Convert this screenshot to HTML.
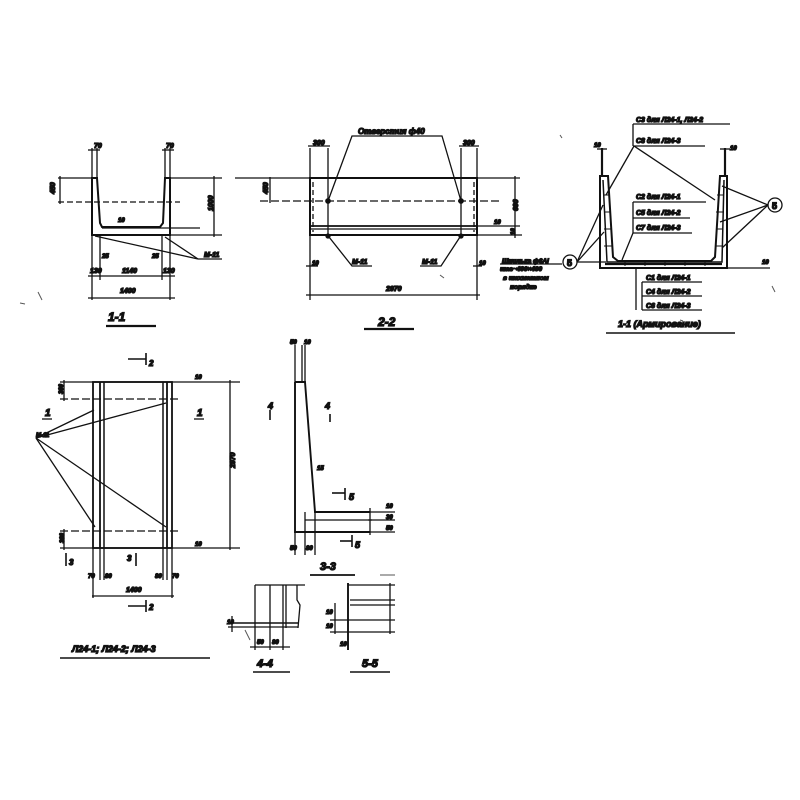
<!DOCTYPE html>
<html><head><meta charset="utf-8"><style>
html,body{margin:0;padding:0;background:#fff;}
svg{display:block}
text{font-family:"Liberation Sans",sans-serif;font-style:italic;font-weight:bold;fill:#111;}
</style></head><body>
<svg width="800" height="800" viewBox="0 0 800 800" xmlns="http://www.w3.org/2000/svg" stroke="#111" fill="none" stroke-width="1.3">
<!-- ===== 1-1 ===== -->
<g>
<path d="M92,178 L97,178 L100,223 L102,227 L160,227 L163,223 L165,178 L170,178 L170,235 L92,235 Z" stroke-width="2"/>
<line x1="58" y1="178" x2="92" y2="178"/><line x1="170" y1="178" x2="222" y2="178"/>
<line x1="58" y1="202" x2="180" y2="202" stroke-dasharray="6,3"/>
<line x1="60" y1="176" x2="60" y2="204"/><text x="50" y="195" font-size="7" transform="rotate(-90 52 192)">450</text>
<line x1="214" y1="176" x2="214" y2="237"/><text x="206" y="212" font-size="7" transform="rotate(-90 209 208)">1000</text>
<line x1="170" y1="235" x2="222" y2="235"/><line x1="102" y1="228" x2="200" y2="228"/>
<line x1="92" y1="148" x2="92" y2="300"/><line x1="97" y1="148" x2="97" y2="178"/>
<line x1="165" y1="148" x2="165" y2="178"/><line x1="170" y1="148" x2="170" y2="300"/>
<line x1="88" y1="150" x2="100" y2="150"/><line x1="162" y1="150" x2="174" y2="150"/>
<text x="94" y="148" font-size="7">70</text><text x="166" y="148" font-size="7">70</text>
<line x1="100" y1="235" x2="100" y2="280"/><line x1="162" y1="235" x2="162" y2="280"/>
<line x1="88" y1="276" x2="175" y2="276"/><line x1="88" y1="298" x2="175" y2="298"/>
<text x="90" y="273" font-size="7">130</text><text x="122" y="273" font-size="7">1140</text><text x="163" y="273" font-size="7">130</text>
<text x="120" y="293" font-size="7">1400</text>
<text x="118" y="222" font-size="6">10</text><text x="102" y="258" font-size="6">25</text><text x="152" y="258" font-size="6">25</text>
<line x1="95" y1="236" x2="198" y2="259"/><line x1="165" y1="237" x2="198" y2="259"/><line x1="198" y1="259" x2="222" y2="259"/>
<text x="204" y="257" font-size="7">М-11</text>
<text x="108" y="321" font-size="12">1-1</text><line x1="106" y1="326" x2="156" y2="326" stroke-width="2.2"/>
</g>
<!-- ===== 2-2 ===== -->
<g>
<rect x="310" y="178" width="167" height="57" stroke-width="2"/>
<line x1="310" y1="226" x2="477" y2="226" stroke-width="1.8"/><line x1="310" y1="229" x2="477" y2="229"/>
<line x1="313" y1="182" x2="313" y2="232" stroke-dasharray="5,3"/><line x1="474" y1="182" x2="474" y2="232" stroke-dasharray="5,3"/>
<line x1="235" y1="178" x2="520" y2="178"/><line x1="260" y1="201" x2="500" y2="201" stroke-dasharray="8,3"/>
<line x1="477" y1="235" x2="522" y2="235"/><line x1="477" y1="226" x2="520" y2="226"/>
<line x1="515" y1="176" x2="515" y2="238"/>
<text x="508" y="215" font-size="7" transform="rotate(-90 511 208)">690</text>
<text x="508" y="236" font-size="6" transform="rotate(-90 511 232)">10</text>
<text x="494" y="224" font-size="6">10</text>
<line x1="270" y1="177" x2="270" y2="203"/><text x="262" y="194" font-size="7" transform="rotate(-90 265 191)">450</text>
<circle cx="328" cy="201" r="2.2" fill="#111"/><circle cx="461" cy="201" r="2.2" fill="#111"/>
<circle cx="328" cy="236" r="2" fill="#111"/><circle cx="461" cy="236" r="2" fill="#111"/>
<line x1="310" y1="148" x2="310" y2="300"/><line x1="328" y1="148" x2="328" y2="238"/>
<line x1="461" y1="148" x2="461" y2="238"/><line x1="477" y1="148" x2="477" y2="300"/>
<line x1="308" y1="146" x2="330" y2="146"/><line x1="459" y1="146" x2="479" y2="146"/>
<text x="313" y="145" font-size="7">300</text><text x="463" y="145" font-size="7">300</text>
<polyline points="328,201 352,136 442,136 461,201"/>
<text x="358" y="134" font-size="8">Отверстия ф40</text>
<polyline points="329,237 352,266 372,266"/><text x="352" y="264" font-size="7">М-11</text>
<polyline points="460,237 441,266 420,266"/><text x="422" y="264" font-size="7">М-11</text>
<line x1="306" y1="266" x2="318" y2="266"/><text x="312" y="265" font-size="6">10</text>
<line x1="473" y1="266" x2="482" y2="266"/><text x="479" y="265" font-size="6">10</text>
<line x1="306" y1="295" x2="480" y2="295"/><text x="386" y="291" font-size="7">2970</text>
<text x="378" y="326" font-size="12">2-2</text><line x1="364" y1="329" x2="414" y2="329" stroke-width="2.2"/>
</g>
<!-- ===== 1-1 armoring ===== -->
<g>
<path d="M600,176 L608,176 L613,257 L618,261 L711,261 L715,257 L720,176 L727,176 L727,268 L600,268 Z" stroke-width="2"/>
<path d="M603,180 L607,262 L722,262 L724,180" stroke-width="1.5"/>
<path d="M605,264 L722,264" stroke-width="2.2"/>
<line x1="602" y1="148" x2="602" y2="176" stroke-width="2.2"/><line x1="725" y1="148" x2="725" y2="176" stroke-width="2.2"/>
<line x1="597" y1="149" x2="607" y2="149"/><line x1="720" y1="149" x2="730" y2="149"/>
<text x="594" y="147" font-size="6">10</text><text x="730" y="150" font-size="6">10</text>
<line x1="727" y1="268" x2="770" y2="268"/><text x="762" y="264" font-size="6">10</text>
<g stroke-width="1">
<line x1="603" y1="195" x2="610" y2="195"/><line x1="604" y1="212" x2="611" y2="212"/><line x1="604" y1="229" x2="611" y2="229"/><line x1="604" y1="246" x2="612" y2="246"/>
<line x1="717" y1="195" x2="724" y2="195"/><line x1="716" y1="212" x2="724" y2="212"/><line x1="716" y1="229" x2="723" y2="229"/><line x1="715" y1="246" x2="723" y2="246"/>
<line x1="625" y1="262" x2="625" y2="266"/><line x1="645" y1="262" x2="645" y2="266"/><line x1="665" y1="262" x2="665" y2="266"/><line x1="685" y1="262" x2="685" y2="266"/><line x1="705" y1="262" x2="705" y2="266"/>
</g>
<line x1="633" y1="124" x2="730" y2="124"/><line x1="633" y1="124" x2="633" y2="146"/><line x1="633" y1="146" x2="705" y2="146"/>
<text x="636" y="122" font-size="7">С3 для Л24-1, Л24-2</text><text x="636" y="143" font-size="7">С8 для Л24-3</text>
<line x1="634" y1="146" x2="606" y2="195"/><line x1="634" y1="146" x2="715" y2="200"/>
<line x1="633" y1="202" x2="706" y2="202"/><line x1="633" y1="202" x2="633" y2="233"/><line x1="633" y1="218" x2="690" y2="218"/><line x1="633" y1="233" x2="692" y2="233"/>
<text x="636" y="199" font-size="7">С2 для Л24-1</text><text x="636" y="215" font-size="7">С5 для Л24-2</text><text x="636" y="230" font-size="7">С7 для Л24-3</text>
<line x1="633" y1="233" x2="622" y2="260"/>
<line x1="636" y1="268" x2="636" y2="310"/><line x1="642" y1="282" x2="702" y2="282"/><line x1="642" y1="296" x2="702" y2="296"/><line x1="642" y1="310" x2="702" y2="310"/><line x1="642" y1="282" x2="642" y2="310"/>
<text x="646" y="280" font-size="7">С1 для Л24-1</text><text x="646" y="294" font-size="7">С4 для Л24-2</text><text x="646" y="308" font-size="7">С6 для Л24-3</text>
<text x="618" y="327" font-size="9">1-1 (Армирование)</text><line x1="606" y1="333" x2="735" y2="333" stroke-width="1.5"/>
<circle cx="570" cy="262" r="7"/><text x="567" y="266" font-size="9" style="font-style:normal">5</text>
<circle cx="775" cy="205" r="7"/><text x="772" y="209" font-size="9" style="font-style:normal">5</text>
<line x1="577" y1="262" x2="603" y2="205"/><line x1="577" y1="262" x2="604" y2="232"/><line x1="577" y1="262" x2="606" y2="262"/>
<line x1="768" y1="205" x2="722" y2="186"/><line x1="768" y1="205" x2="720" y2="222"/><line x1="768" y1="205" x2="722" y2="248"/>
<text x="502" y="263" font-size="6.5">Шпилька ф6АI</text><line x1="500" y1="264" x2="562" y2="264"/>
<text x="500" y="271" font-size="6.5">шаг~400×400</text><text x="503" y="280" font-size="6.5">в шахматном</text><text x="510" y="289" font-size="6.5">порядке</text>
</g>
<!-- ===== plan ===== -->
<g>
<rect x="93" y="382" width="79" height="166" stroke-width="1.8"/>
<line x1="100" y1="382" x2="100" y2="548" stroke-width="1.8"/><line x1="104" y1="382" x2="104" y2="548" stroke-width="1.5"/>
<line x1="163" y1="382" x2="163" y2="548" stroke-width="1.5"/><line x1="167" y1="382" x2="167" y2="548" stroke-width="1.8"/>
<line x1="60" y1="382" x2="240" y2="382"/><line x1="60" y1="399" x2="180" y2="399" stroke-dasharray="8,3"/>
<line x1="60" y1="531" x2="180" y2="531" stroke-dasharray="8,3"/><line x1="60" y1="548" x2="240" y2="548"/>
<line x1="64" y1="380" x2="64" y2="401"/><line x1="64" y1="529" x2="64" y2="550"/>
<text x="56" y="395" font-size="6" transform="rotate(-90 59 391)">300</text><text x="56" y="545" font-size="6" transform="rotate(-90 59 540)">300</text>
<line x1="230" y1="380" x2="230" y2="550"/><text x="222" y="475" font-size="7" transform="rotate(-90 225 465)">2970</text>
<text x="195" y="379" font-size="6">10</text><text x="195" y="546" font-size="6">10</text>
<line x1="36" y1="438" x2="94" y2="410"/><line x1="36" y1="438" x2="166" y2="403"/><line x1="36" y1="438" x2="95" y2="527"/><line x1="36" y1="438" x2="166" y2="527"/>
<text x="36" y="437" font-size="6">М-11</text>
<text x="45" y="416" font-size="10">1</text><line x1="42" y1="419" x2="52" y2="419"/>
<text x="197" y="416" font-size="10">1</text><line x1="194" y1="419" x2="204" y2="419"/>
<line x1="128" y1="359" x2="146" y2="359" stroke-width="1.6"/><line x1="146" y1="353" x2="146" y2="365" stroke-width="1.6"/><text x="149" y="366" font-size="8">2</text>
<line x1="128" y1="606" x2="146" y2="606" stroke-width="1.6"/><line x1="146" y1="600" x2="146" y2="612" stroke-width="1.6"/><text x="149" y="610" font-size="8">2</text>
<line x1="66" y1="553" x2="66" y2="566" stroke-width="1.6"/><text x="69" y="565" font-size="8">3</text>
<line x1="136" y1="553" x2="136" y2="566" stroke-width="1.6"/><text x="127" y="561" font-size="8">3</text>
<line x1="93" y1="548" x2="93" y2="598"/><line x1="172" y1="548" x2="172" y2="598"/>
<line x1="100" y1="548" x2="100" y2="580"/><line x1="104" y1="548" x2="104" y2="580"/><line x1="163" y1="548" x2="163" y2="580"/><line x1="167" y1="548" x2="167" y2="580"/>
<text x="88" y="578" font-size="6">70</text><text x="105" y="578" font-size="6">80</text><text x="155" y="578" font-size="6">80</text><text x="172" y="578" font-size="6">70</text>
<line x1="92" y1="596" x2="174" y2="596"/><text x="126" y="592" font-size="7">1400</text>
<text x="72" y="652" font-size="9">Л24-1; Л24-2; Л24-3</text><line x1="60" y1="658" x2="210" y2="658" stroke-width="1.6"/>
</g>
<!-- ===== 3-3 ===== -->
<g>
<path d="M295,382 L305,382 L315,512 L370,512 M295,382 L295,532 L370,532" stroke-width="1.9"/>
<line x1="305" y1="512" x2="305" y2="532"/><line x1="305" y1="520" x2="372" y2="520"/>
<line x1="295" y1="345" x2="295" y2="382"/><line x1="302" y1="345" x2="302" y2="382"/><line x1="305" y1="345" x2="305" y2="382"/>
<text x="290" y="344" font-size="6">50</text><text x="304" y="344" font-size="6">10</text>
<line x1="295" y1="532" x2="295" y2="555"/><line x1="305" y1="532" x2="305" y2="555"/><line x1="315" y1="512" x2="315" y2="555"/>
<text x="290" y="550" font-size="6">50</text><text x="306" y="550" font-size="6">80</text>
<line x1="370" y1="508" x2="370" y2="535"/><line x1="368" y1="512" x2="395" y2="512"/><line x1="368" y1="520" x2="395" y2="520"/><line x1="368" y1="532" x2="395" y2="532"/>
<text x="386" y="508" font-size="6">10</text><text x="386" y="519" font-size="6">30</text><text x="386" y="530" font-size="6">50</text>
<text x="317" y="470" font-size="6">15</text>
<line x1="270" y1="410" x2="270" y2="420" stroke-width="1.6"/><text x="268" y="409" font-size="9">4</text>
<line x1="330" y1="414" x2="330" y2="422" stroke-width="1.6"/><text x="325" y="409" font-size="9">4</text>
<line x1="332" y1="493" x2="345" y2="493" stroke-width="1.6"/><line x1="345" y1="488" x2="345" y2="500" stroke-width="1.6"/><text x="349" y="500" font-size="9">5</text>
<line x1="340" y1="541" x2="352" y2="541" stroke-width="1.6"/><line x1="352" y1="535" x2="352" y2="547" stroke-width="1.6"/><text x="355" y="548" font-size="9">5</text>
<text x="320" y="570" font-size="11">3-3</text><line x1="310" y1="575" x2="355" y2="575" stroke-width="1.8"/>
</g>
<!-- ===== 4-4 ===== -->
<g>
<line x1="255" y1="585" x2="305" y2="585"/>
<line x1="255" y1="585" x2="255" y2="628"/><line x1="270" y1="585" x2="270" y2="628"/><line x1="283" y1="585" x2="283" y2="628"/><line x1="286" y1="585" x2="286" y2="628"/>
<path d="M297,585 L297,600 L300,605 L298,628" />
<line x1="228" y1="623" x2="298" y2="623" stroke-width="1.6"/><line x1="228" y1="627" x2="298" y2="627"/>
<line x1="232" y1="616" x2="232" y2="632"/><text x="227" y="624" font-size="6">10</text>
<line x1="255" y1="628" x2="255" y2="650"/><line x1="270" y1="628" x2="270" y2="650"/><line x1="283" y1="628" x2="283" y2="650"/>
<line x1="250" y1="647" x2="290" y2="647"/><text x="257" y="644" font-size="6">50</text><text x="272" y="644" font-size="6">80</text>
<text x="257" y="667" font-size="11">4-4</text><line x1="253" y1="672" x2="290" y2="672" stroke-width="1.6"/>
</g>
<!-- ===== 5-5 ===== -->
<g>
<line x1="348" y1="585" x2="395" y2="585"/><line x1="348" y1="583" x2="348" y2="650" stroke-width="1.9"/>
<line x1="350" y1="600" x2="395" y2="600"/><line x1="350" y1="605" x2="395" y2="605"/><line x1="330" y1="620" x2="395" y2="620"/><line x1="330" y1="632" x2="395" y2="632"/>
<line x1="390" y1="583" x2="390" y2="634"/>
<line x1="335" y1="603" x2="335" y2="634"/><text x="326" y="614" font-size="6">10</text><text x="326" y="628" font-size="6">10</text>
<text x="340" y="646" font-size="6">10</text>
<text x="362" y="667" font-size="11">5-5</text><line x1="350" y1="672" x2="390" y2="672" stroke-width="1.6"/>
</g>
<!-- specks -->
<g stroke="#555" stroke-width="1">
<line x1="38" y1="292" x2="42" y2="300"/><line x1="20" y1="303" x2="25" y2="304"/><line x1="560" y1="135" x2="562" y2="138"/>
<line x1="772" y1="286" x2="775" y2="292"/><line x1="245" y1="630" x2="250" y2="640"/><line x1="440" y1="275" x2="444" y2="278"/>
<line x1="680" y1="320" x2="683" y2="321"/><line x1="380" y1="575" x2="395" y2="575"/>
</g>
</svg>
</body></html>
